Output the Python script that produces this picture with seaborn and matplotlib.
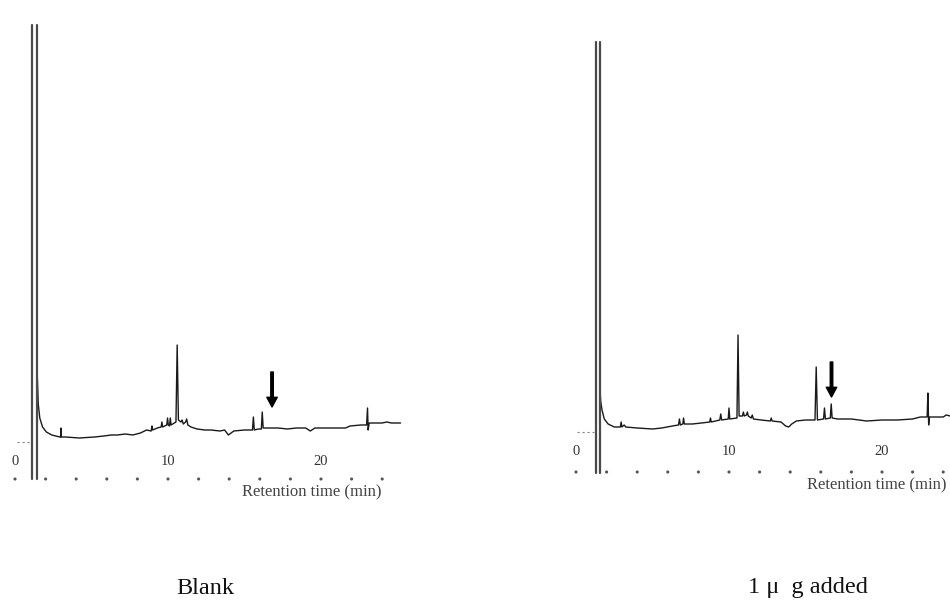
import numpy as np
import pandas as pd
import matplotlib
matplotlib.use("Agg")
import matplotlib.pyplot as plt
import seaborn as sns

sns.set_style("white")
plt.rcParams["font.family"] = ["Liberation Serif", "DejaVu Serif"]

# ---------------- data ----------------
# Blank chromatogram (time in min, detector signal in arbitrary units)
blank_time = [1.45, 1.52, 1.62, 1.80, 2.05, 2.40,
              2.94, 2.98, 3.00, 3.02, 3.30,
              4.20, 5.20, 5.80, 6.30, 6.70,
              7.20, 7.70, 8.20, 8.60, 8.90,
              8.95, 9.00, 9.30, 9.55, 9.60,
              9.65, 9.92, 9.97, 10.02, 10.10,
              10.15, 10.20, 10.52, 10.60, 10.68,
              10.85, 10.92, 11.00, 11.15, 11.22,
              11.30, 11.50, 11.90, 12.40, 12.80,
              13.40, 13.70, 13.95, 14.30, 15.00,
              15.52, 15.58, 15.64, 15.90, 16.10,
              16.16, 16.22, 16.60, 17.20, 17.80,
              18.40, 19.00, 19.30, 19.60, 20.50,
              21.60, 21.90, 22.60, 22.98, 23.04,
              23.08, 23.15, 23.40, 24.00, 24.30,
              24.60, 25.20]
blank_signal = [67, 36, 22, 13, 8, 5,
                3, 3, 12, 3, 3,
                2, 3, 4, 5, 5,
                6, 5, 7, 10, 9,
                14, 10, 12, 13, 18,
                13, 15, 22, 15, 14,
                22, 15, 18, 95, 20,
                18, 20, 16, 18, 21,
                15, 13, 11, 10, 10,
                9, 10, 5, 9, 10,
                10, 23, 10, 11, 11,
                28, 12, 12, 12, 11,
                12, 12, 9, 12, 12,
                12, 14, 15, 15, 32,
                10, 17, 17, 17, 18,
                17, 17]

# 1 ug added chromatogram
added_time = [1.57, 1.62, 1.70, 1.85, 2.10, 2.50,
              2.90, 2.95, 3.00, 3.15, 3.25, 4.00,
              5.00, 5.60, 6.30, 6.70, 6.76, 6.82,
              6.98, 7.03, 7.08, 7.60, 8.20, 8.74,
              8.79, 8.84, 9.40, 9.46, 9.52, 9.95,
              10.00, 10.05, 10.52, 10.59, 10.66, 10.88,
              10.94, 11.00, 11.14, 11.20, 11.26, 11.45,
              11.52, 11.60, 12.10, 12.70, 12.76, 12.82,
              13.40, 13.70, 13.90, 14.10, 14.40, 15.00,
              15.62, 15.70, 15.78, 16.18, 16.24, 16.30,
              16.62, 16.68, 16.74, 17.10, 18.00, 19.00,
              20.00, 21.00, 22.00, 22.50, 22.95, 23.00,
              23.05, 23.10, 23.50, 24.00, 24.20, 24.45]
added_signal = [40, 28, 20, 11, 6, 3,
                3, 8, 3, 5, 3, 2,
                1, 2, 4, 5, 11, 5,
                6, 12, 6, 6, 7, 8,
                12, 8, 10, 16, 10, 11,
                22, 11, 12, 95, 14, 14,
                18, 14, 15, 18, 14, 12,
                15, 11, 10, 9, 12, 9,
                8, 4, 3, 6, 9, 10,
                10, 63, 10, 11, 22, 11,
                12, 26, 12, 11, 11, 9,
                10, 10, 11, 13, 13, 37,
                5, 13, 13, 13, 15, 14]

# solvent front (two plotted edges)
blank_solvent_time = [1.10, 1.45]
blank_solvent_top = 415
blank_solvent_bottom = -39
added_solvent_time = [1.30, 1.57]
added_solvent_top = 388
added_solvent_bottom = -43

# faint pre-injection baseline
blank_pre_time = [0.10, 1.05]
added_pre_time = [0.05, 1.20]
pre_signal = -2

# arrow position (min) and its signal span
blank_arrow = (16.80, 68, 33)
added_arrow = (16.70, 68, 33)

tick_values = [0, 10, 20]
tick_labels = ["0", "10", "20"]
dot_times = list(range(0, 25, 2))
panel_titles = ["Blank", "1 \u03bc  g added"]
axis_label = "Retention time (min)"

# ---------------- figure ----------------
W, H = 950, 603
fig = plt.figure(figsize=(W / 100, H / 100), dpi=100)

def make_axes(x0_px, xmax, ref_px):
    px_per_min = 15.3
    ax = fig.add_axes([x0_px / W, 1 - 500 / H, xmax * px_per_min / W, 500 / H])
    ax.set_xlim(0, xmax)
    ax.set_ylim(ref_px - 500, ref_px)
    ax.patch.set_alpha(0)
    return ax

panels = [
    dict(x0=15, xmax=25.3, ref=440, t=blank_time, s=blank_signal,
         st=blank_solvent_time, stop=blank_solvent_top, sbot=blank_solvent_bottom,
         pre=blank_pre_time, arrow=blank_arrow, spine=-14, dots=-39,
         label_xy=(312, 492), title_xy=(205, 588)),
    dict(x0=576, xmax=24.45, ref=430, t=added_time, s=added_signal,
         st=added_solvent_time, stop=added_solvent_top, sbot=added_solvent_bottom,
         pre=added_pre_time, arrow=added_arrow, spine=-14, dots=-42,
         label_xy=(877, 485), title_xy=(808, 588)),
]

for i, p in enumerate(panels):
    ax = make_axes(p["x0"], p["xmax"], p["ref"])

    # main trace
    df = pd.DataFrame({"t": p["t"], "s": p["s"]})
    sns.lineplot(data=df, x="t", y="s", estimator=None, sort=False,
                 color="#1a1a1a", lw=1.0, ax=ax)

    # solvent front edges
    sdf = pd.DataFrame({
        "t": [p["st"][0], p["st"][0], p["st"][1], p["st"][1]],
        "s": [p["sbot"], p["stop"], p["stop"], p["sbot"]],
        "edge": [0, 0, 1, 1],
    })
    sns.lineplot(data=sdf, x="t", y="s", units="edge", estimator=None, sort=False,
                 color="#4a4a4a", lw=1.6, ax=ax)
    for ln in ax.lines[-2:]:
        ln.set_clip_on(False)

    # faint pre-injection baseline
    pdf = pd.DataFrame({"t": p["pre"], "s": [pre_signal, pre_signal]})
    sns.lineplot(data=pdf, x="t", y="s", estimator=None, sort=False,
                 color="#888888", lw=0.8, ax=ax)
    ax.lines[-1].set_linestyle((0, (2, 2.5)))

    # dots along the time axis
    ddf = pd.DataFrame({"t": dot_times, "s": [p["dots"]] * len(dot_times)})
    sns.scatterplot(data=ddf, x="t", y="s", s=5, color="#555555",
                    edgecolor="none", ax=ax, clip_on=False)

    # arrow
    at, a0, a1 = p["arrow"]
    ax.annotate("", xy=(at, a1), xytext=(at, a0),
                arrowprops=dict(width=1.8, headwidth=7.5, headlength=7,
                                color="black", shrink=0))

    # axis styling
    for side in ["top", "right", "left"]:
        ax.spines[side].set_visible(False)
    ax.spines["bottom"].set_position(("data", p["spine"]))
    ax.spines["bottom"].set_visible(False)
    ax.set_xticks(tick_values)
    ax.set_xticklabels(tick_labels, fontsize=10.5, color="#333333")
    ax.tick_params(axis="x", length=0, pad=1)
    ax.set_yticks([])
    ax.set_xlabel("")
    ax.set_ylabel("")

    fig.text(p["label_xy"][0] / W, 1 - p["label_xy"][1] / H, axis_label,
             ha="center", va="center", fontsize=12, color="#444444")
    fig.text(p["title_xy"][0] / W, 1 - p["title_xy"][1] / H, panel_titles[i],
             ha="center", va="center", fontsize=17.5, color="#111111")

fig.savefig("out.png", dpi=100)
